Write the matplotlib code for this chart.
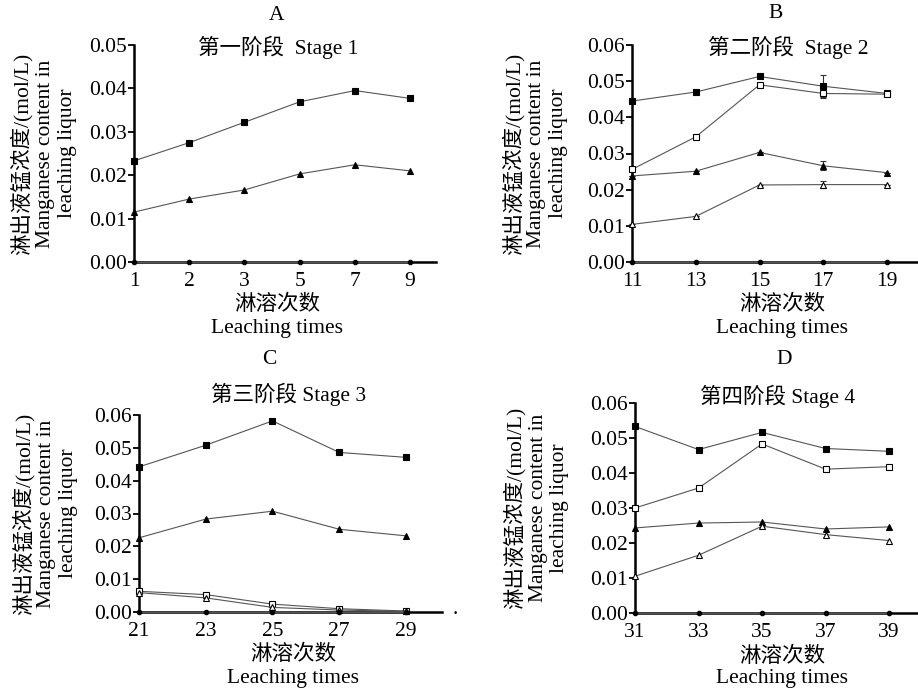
import matplotlib
matplotlib.use('Agg')
import matplotlib.pyplot as plt

plt.rcParams['font.family'] = ['Liberation Serif', 'Noto Sans CJK SC']
plt.rcParams['axes.unicode_minus'] = False

# Panel A: stage 1
a_x = ['1', '2', '3', '5', '7', '9']
a_sq = [0.0233, 0.0275, 0.0322, 0.0369, 0.0395, 0.0377]
a_tri = [0.0115, 0.0145, 0.0166, 0.0203, 0.0224, 0.0210]
a_dot = [0, 0, 0, 0, 0, 0]

# Panel B: stage 2
b_x = ['11', '13', '15', '17', '19']
b_sq = [0.0445, 0.0470, 0.0513, 0.0486, 0.0466]
b_osq = [0.0256, 0.0346, 0.0490, 0.0466, 0.0464]
b_tri = [0.0238, 0.0251, 0.0303, 0.0266, 0.0247]
b_otri = [0.0104, 0.0126, 0.0213, 0.0214, 0.0214]
b_dot = [0, 0, 0, 0, 0]
b_sq_err = [0, 0, 0, 0.0030, 0]
b_osq_err = [0, 0, 0, 0.0013, 0]
b_tri_err = [0, 0, 0, 0.0013, 0]
b_otri_err = [0, 0, 0, 0.0009, 0]

# Panel C: stage 3
c_x = ['21', '23', '25', '27', '29']
c_sq = [0.0442, 0.0508, 0.0582, 0.0486, 0.0471]
c_tri = [0.0226, 0.0283, 0.0307, 0.0252, 0.0232]
c_osq = [0.0063, 0.0053, 0.0024, 0.0010, 0.0003]
c_otri = [0.0059, 0.0043, 0.0014, 0.0006, 0.0002]
c_dot = [0, 0, 0, 0, 0]

# Panel D: stage 4
d_x = ['31', '33', '35', '37', '39']
d_sq = [0.0533, 0.0467, 0.0516, 0.0470, 0.0462]
d_osq = [0.0300, 0.0357, 0.0483, 0.0411, 0.0418]
d_tri = [0.0243, 0.0257, 0.0260, 0.0240, 0.0246]
d_otri = [0.0105, 0.0165, 0.0248, 0.0224, 0.0207]
d_dot = [0, 0, 0, 0, 0]

ylabel = '淋出液锰浓度/(mol/L)\nManganese content in\nleaching liquor'
fs = 15.5

W, H = 918, 691
fig = plt.figure(figsize=(W / 100, H / 100), dpi=100)

STYLES = {
    'sq': ('s', 'black', 4.5),
    'osq': ('s', 'white', 4.5),
    'tri': ('^', 'black', 4.5),
    'otri': ('^', 'white', 4.5),
    'dot': ('o', 'black', 3.2),
}


def px_axes(l, r, t, b):
    return fig.add_axes([l / W, 1 - b / H, (r - l) / W, (b - t) / H])


def draw(ax, xlabels, series, ymax, xmax, ylab_x):
    xs = list(range(len(xlabels)))
    for key, ys, err in series:
        m, fc, ms = STYLES[key]
        ax.errorbar(xs, ys, yerr=err, color='#555555', lw=0.8, marker=m,
                    mfc=fc, mec='black', mew=0.8, ms=ms, capsize=2.5,
                    ecolor='#333333', elinewidth=0.8, clip_on=False, zorder=3)
    ax.set_xlim(0, xmax)
    ax.set_ylim(0, ymax)
    yt = [i * 0.01 for i in range(int(round(ymax / 0.01)) + 1)]
    ax.set_yticks(yt)
    ax.set_yticklabels(['%.2f' % v for v in yt], fontsize=fs)
    ax.set_xticks(xs)
    ax.set_xticklabels(xlabels, fontsize=fs)
    for s in ['top', 'right']:
        ax.spines[s].set_visible(False)
    for s in ['left', 'bottom']:
        ax.spines[s].set_linewidth(1.8)
    ax.tick_params(axis='y', direction='out', length=4, width=1.3, pad=1)
    ax.tick_params(axis='x', direction='out', length=0, pad=7)
    ax.text(ylab_x, 0.5, ylabel, transform=ax.transAxes, rotation=90,
            ha='center', va='center', multialignment='center',
            fontsize=fs, linespacing=1.2)


def ftext(x, y, s, **kw):
    fig.text(x / W, 1 - y / H, s, ha='center', va='center', fontsize=fs, **kw)


axA = px_axes(134, 436, 45, 262)
draw(axA, a_x, [('sq', a_sq, None), ('tri', a_tri, None), ('dot', a_dot, None)],
     0.05, 5.47, -0.30)

axB = px_axes(632, 917, 45, 262)
draw(axB, b_x, [('sq', b_sq, b_sq_err), ('osq', b_osq, b_osq_err),
                ('tri', b_tri, b_tri_err), ('otri', b_otri, b_otri_err),
                ('dot', b_dot, None)],
     0.06, 4.47, -0.34)

axC = px_axes(139, 442, 415, 612)
draw(axC, c_x, [('sq', c_sq, None), ('osq', c_osq, None), ('tri', c_tri, None),
                ('otri', c_otri, None), ('dot', c_dot, None)],
     0.06, 4.54, -0.31)

axD = px_axes(635, 917, 403, 613)
draw(axD, d_x, [('sq', d_sq, None), ('osq', d_osq, None), ('tri', d_tri, None),
                ('otri', d_otri, None), ('dot', d_dot, None)],
     0.06, 4.44, -0.35)

# panel letters and stage titles
ftext(277, 15, 'A')
ftext(278, 47, '第一阶段  Stage 1')
ftext(776, 14, 'B')
ftext(788, 47, '第二阶段  Stage 2')
ftext(269, 360, 'C')
ftext(289, 394, '第三阶段 Stage 3')
ftext(784, 360, 'D')
ftext(778, 396, '第四阶段 Stage 4')

# x axis labels
for cx, y1, y2 in [(277, 305, 329), (782, 305, 329), (293, 655, 678), (782, 657, 679)]:
    ftext(cx, y1, '淋溶次数')
    ftext(cx, y2, 'Leaching times')

ftext(455, 610, '.')

plt.savefig('out.png', dpi=100)
